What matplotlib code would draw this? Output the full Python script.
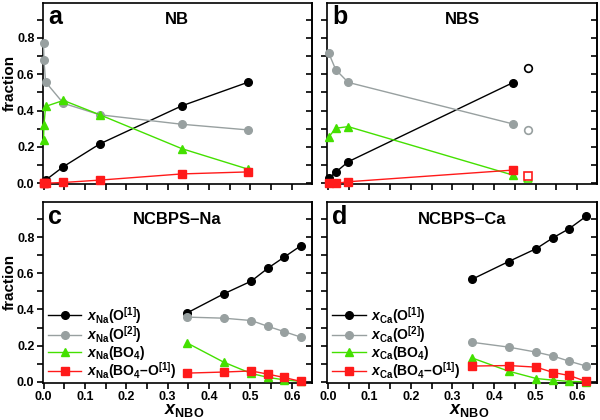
import matplotlib
matplotlib.use('Agg')
import matplotlib.pyplot as plt
from matplotlib.ticker import MultipleLocator

plt.rcParams['font.family'] = ['Liberation Sans', 'DejaVu Sans']
plt.rcParams['font.weight'] = 'bold'
plt.rcParams['mathtext.fontset'] = 'custom'
plt.rcParams['mathtext.rm'] = 'Liberation Sans:bold'
plt.rcParams['mathtext.it'] = 'Liberation Sans:italic:bold'
plt.rcParams['mathtext.bf'] = 'Liberation Sans:bold'

# NB glass (panel a)
nb_x = [0.0, 0.001, 0.005, 0.048, 0.136, 0.334, 0.493]
nb_o1 = [0.0, 0.0, 0.018, 0.092, 0.217, 0.426, 0.555]
nb_o2 = [0.769, 0.676, 0.557, 0.440, 0.377, 0.325, 0.294]
nb_bo4 = [0.239, 0.322, 0.423, 0.456, 0.377, 0.191, 0.079]
nb_bo4o1 = [0.0, 0.0, 0.001, 0.005, 0.018, 0.052, 0.063]

# NBS glass (panel b), plus one separate point drawn as open symbols
nbs_x = [0.002, 0.019, 0.049, 0.445]
nbs_o1 = [0.028, 0.061, 0.119, 0.553]
nbs_o2 = [0.717, 0.625, 0.555, 0.327]
nbs_bo4 = [0.254, 0.303, 0.312, 0.046]
nbs_bo4o1 = [0.0, 0.0, 0.009, 0.073]
nbs_open_x = [0.482]
nbs_open_o1 = [0.632]
nbs_open_o2 = [0.296]
nbs_open_bo4 = [0.028]
nbs_open_bo4o1 = [0.040]

# NCBPS glasses (panels c, d)
ncbps_x = [0.346, 0.435, 0.502, 0.543, 0.581, 0.622]
na_o1 = [0.380, 0.486, 0.557, 0.630, 0.689, 0.753]
na_o2 = [0.358, 0.352, 0.339, 0.306, 0.278, 0.247]
na_bo4 = [0.216, 0.109, 0.046, 0.024, 0.011, 0.002]
na_bo4o1 = [0.048, 0.054, 0.060, 0.042, 0.024, 0.002]
ca_o1 = [0.566, 0.665, 0.737, 0.798, 0.847, 0.916]
ca_o2 = [0.219, 0.192, 0.164, 0.142, 0.114, 0.087]
ca_bo4 = [0.133, 0.059, 0.018, 0.009, 0.002, 0.0]
ca_bo4o1 = [0.087, 0.090, 0.081, 0.051, 0.035, 0.002]

BLACK = 'black'
GREY = '#98a0a0'
GREEN = '#44e000'
RED = '#ff1a1a'
styles = [(BLACK, 'o'), (GREY, 'o'), (GREEN, '^'), (RED, 's')]

fig = plt.figure(figsize=(6, 4.2), dpi=100)
ax_a = fig.add_axes([0.0712, 0.5612, 0.4483, 0.4324])
ax_b = fig.add_axes([0.545, 0.5612, 0.45, 0.4324])
ax_c = fig.add_axes([0.0712, 0.0888, 0.4483, 0.4295])
ax_d = fig.add_axes([0.545, 0.0888, 0.45, 0.4295])


def draw(ax, x, series, labels=None):
    for i, (y, (col, mk)) in enumerate(zip(series, styles)):
        lab = labels[i] if labels else None
        ax.plot(x, y, '-', marker=mk, color=col, mec=col, mfc=col, ms=5.5,
                lw=1.0, label=lab, clip_on=False, zorder=3)


def style(ax, letter, title, left_labels, bottom_labels):
    ax.set_xlim(-0.002, 0.648)
    ax.set_ylim(-0.005, 0.993)
    ax.xaxis.set_major_locator(MultipleLocator(0.1))
    ax.xaxis.set_minor_locator(MultipleLocator(0.05))
    ax.yaxis.set_major_locator(MultipleLocator(0.2))
    ax.yaxis.set_minor_locator(MultipleLocator(0.1))
    ax.tick_params(which='both', direction='out', length=4.5, width=1.2,
                   labelsize=9, right=False, top=False,
                   labelleft=left_labels, labelbottom=bottom_labels, pad=1.5)
    # right-hand ticks point inwards
    sec = ax.secondary_yaxis('right')
    sec.yaxis.set_major_locator(MultipleLocator(0.1))
    sec.tick_params(direction='in', length=4.5, width=1.2, labelright=False)
    sec.spines['right'].set_linewidth(1.2)
    for sp in ax.spines.values():
        sp.set_linewidth(1.2)
    ax.text(0.02, 0.88, letter, transform=ax.transAxes, fontsize=18,
            fontweight='bold', va='baseline', ha='left')
    ax.text(0.5, 0.88, title, transform=ax.transAxes, fontsize=12,
            fontweight='bold', va='baseline', ha='center')
    if left_labels:
        ax.set_ylabel('fraction', fontsize=11, fontweight='bold')
        ax.yaxis.set_label_coords(-0.098, 0.56)
    if bottom_labels:
        ax.set_xlabel(r'$x_{\mathrm{NBO}}$', fontsize=13)
        ax.xaxis.set_label_coords(0.525, -0.108)


draw(ax_a, nb_x, [nb_o1, nb_o2, nb_bo4, nb_bo4o1])
draw(ax_b, nbs_x, [nbs_o1, nbs_o2, nbs_bo4, nbs_bo4o1])
for y, (col, mk) in zip([nbs_open_o1, nbs_open_o2, nbs_open_bo4, nbs_open_bo4o1], styles):
    ax_b.plot(nbs_open_x, y, linestyle='none', marker=mk, mec=col, mfc='white',
              mew=1.2, ms=5.5, clip_on=False, zorder=3)

na_labels = [r'$x_{\mathrm{Na}}$(O$^{[1]}$)', r'$x_{\mathrm{Na}}$(O$^{[2]}$)',
             r'$x_{\mathrm{Na}}$(BO$_4$)', r'$x_{\mathrm{Na}}$(BO$_4$–O$^{[1]}$)']
ca_labels = [r'$x_{\mathrm{Ca}}$(O$^{[1]}$)', r'$x_{\mathrm{Ca}}$(O$^{[2]}$)',
             r'$x_{\mathrm{Ca}}$(BO$_4$)', r'$x_{\mathrm{Ca}}$(BO$_4$–O$^{[1]}$)']
draw(ax_c, ncbps_x, [na_o1, na_o2, na_bo4, na_bo4o1], na_labels)
draw(ax_d, ncbps_x, [ca_o1, ca_o2, ca_bo4, ca_bo4o1], ca_labels)

style(ax_a, 'a', 'NB', True, False)
style(ax_b, 'b', 'NBS', False, False)
style(ax_c, 'c', 'NCBPS–Na', True, True)
style(ax_d, 'd', 'NCBPS–Ca', False, True)

for ax in (ax_c, ax_d):
    ax.legend(loc='lower left', bbox_to_anchor=(0.02, 0.008), frameon=False,
              fontsize=10, handlelength=2.4, handletextpad=0.4,
              labelspacing=-0.1, borderpad=0, borderaxespad=0)

fig.savefig('out.png', dpi=100)
